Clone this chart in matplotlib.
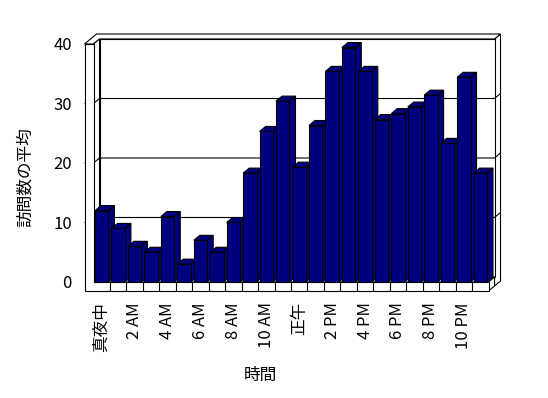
import matplotlib
matplotlib.use("Agg")
import matplotlib.pyplot as plt
from matplotlib.patches import Polygon

plt.rcParams['font.family'] = ['Noto Sans CJK JP', 'DejaVu Sans']

# ---- data ----
hours = ['真夜中', '1 AM', '2 AM', '3 AM', '4 AM', '5 AM', '6 AM', '7 AM',
         '8 AM', '9 AM', '10 AM', '11 AM', '正午', '1 PM', '2 PM', '3 PM',
         '4 PM', '5 PM', '6 PM', '7 PM', '8 PM', '9 PM', '10 PM', '11 PM']
visits = [12, 9, 6, 5, 11, 3, 7, 5, 10, 18.3, 25.3, 30.4,
          19.3, 26.3, 35.4, 39.4, 35.4, 27.3, 28.3, 29.4, 31.4, 23.3, 34.4, 18.3]
yticks = [0, 10, 20, 30, 40]
ylabel = '訪問数の平均'
xlabel = '時間'

W, H = 548, 398
fig = plt.figure(figsize=(W / 100, H / 100), dpi=100)
ax = fig.add_axes([93.5 / W, 1 - 282 / H, 395 / W, 238 / H])
n = len(visits)
x0, xr = -0.5, n - 0.5
ymax = 40
ax.set_xlim(x0, xr)
ax.set_ylim(0, ymax)
for s in ax.spines.values():
    s.set_visible(False)
ax.patch.set_visible(False)

px_x = 395 / n          # pixels per category
px_y = 238 / ymax       # pixels per unit
dx, dy = 6 / px_x, 5 / px_y      # depth offset
wt = 9 / px_x                    # wall thickness
ft = 9 / px_y                    # floor thickness
xb = xr + dx                     # back wall right edge

LW = 0.8
def poly(pts, fc='white', z=1, lw=LW):
    p = Polygon(pts, closed=True, facecolor=fc, edgecolor='black',
                linewidth=lw, zorder=z, clip_on=False, joinstyle='miter')
    ax.add_patch(p)

def line(xs, ys, z=2):
    ax.plot(xs, ys, color='black', linewidth=LW, zorder=z, clip_on=False,
            solid_capstyle='butt')

# back wall side, top band
poly([(xb, -ft + dy), (xb + dx, -ft + 2 * dy), (xb + dx, ymax + 2 * dy), (xb, ymax + dy)], z=1)
poly([(x0 - wt, ymax), (x0, ymax), (x0 + dx, ymax + dy), (xb, ymax + dy),
      (xb + dx, ymax + 2 * dy), (x0 - wt + 2 * dx, ymax + 2 * dy)], z=1)
# back wall face
poly([(x0 + dx, dy), (xb, dy), (xb, ymax + dy), (x0 + dx, ymax + dy)], z=1)
# left wall inner face
poly([(x0, 0), (x0 + dx, dy), (x0 + dx, ymax + dy), (x0, ymax)], z=1)
# floor top and right side
poly([(x0, 0), (xr, 0), (xr + dx, dy), (x0 + dx, dy)], z=2)
poly([(xr, -ft), (xr + dx, -ft + dy), (xr + dx, dy), (xr, 0)], z=2)
# front L: left wall front + floor front
poly([(x0 - wt, -ft), (xr, -ft), (xr, 0), (x0, 0), (x0, ymax), (x0 - wt, ymax)], z=3)

# gridlines
for v in yticks[1:-1]:
    line([x0 - wt, x0, x0 + dx, xb, xb + dx], [v, v, v + dy, v + dy, v + 2 * dy], z=1.5)
# category ticks on floor front
for i in range(n - 1):
    line([i + 0.5, i + 0.5], [-ft, 0], z=4)

# bars
bw = 0.815
bars = ax.bar(range(n), visits, width=bw, color='#000080', edgecolor='black',
              linewidth=LW)
for i, (b, v) in enumerate(zip(bars, visits)):
    b.set_zorder(10 + 2 * i + 1)
    l, r = i - bw / 2, i + bw / 2
    poly([(r, 0), (r + dx, dy), (r + dx, v + dy), (r, v)], fc='#000080', z=10 + 2 * i)
    poly([(l, v), (r, v), (r + dx, v + dy), (l + dx, v + dy)], fc='#000080', z=10 + 2 * i)

ax.set_yticks(yticks)
ax.set_yticklabels([str(t) for t in yticks])
ax.set_xticks(range(0, n, 2))
ax.set_xticklabels(hours[::2], rotation=90)
ax.tick_params(axis='y', length=0, pad=15.5, labelsize=12)
ax.tick_params(axis='x', length=0, pad=14.5, labelsize=12)

fig.text(25 / W, 1 - 177 / H, ylabel, rotation=90, ha='center', va='center', fontsize=12)
fig.text(260 / W, 1 - 375 / H, xlabel, ha='center', va='center', fontsize=12)

fig.savefig('out.png', dpi=100)
